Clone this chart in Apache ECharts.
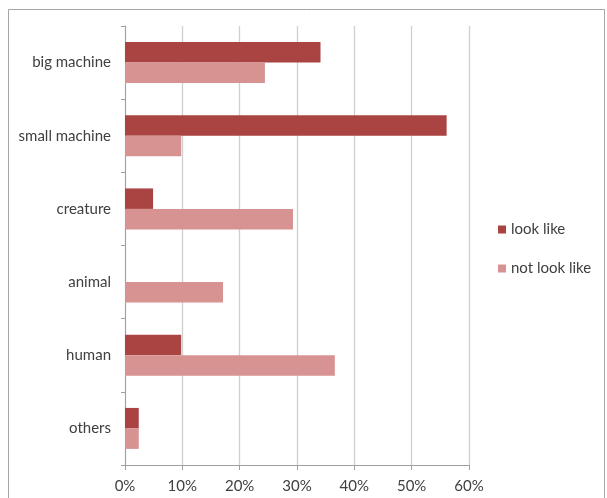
<!DOCTYPE html>
<html>
<head>
<meta charset="utf-8">
<script src="https://cdn.jsdelivr.net/npm/echarts@6/dist/echarts.min.js"></script>
<style>
  html, body { margin: 0; padding: 0; background: #fff; }
  #chart { width: 607px; height: 498px; }
</style>
</head>
<body>
<div id="chart"></div>
<script>
// Categories, top to bottom
const categories = ['big machine', 'small machine', 'creature', 'animal', 'human', 'others'];
// Share of answers (%)
const lookLike = [34.1, 56.1, 4.9, 0, 9.8, 2.4];
const notLookLike = [24.4, 9.8, 29.3, 17.1, 36.6, 2.4];
const seriesNames = ['look like', 'not look like'];
const xTicks = [0, 10, 20, 30, 40, 50, 60];

const font = 'Lato, "Open Sans", sans-serif';
const chart = echarts.init(document.getElementById('chart'), null, { renderer: 'canvas' });

chart.setOption({
  backgroundColor: '#fff',
  animation: false,
  graphic: [{
    type: 'rect',
    shape: { x: 8.5, y: 9.5, width: 596, height: 500 },
    style: { fill: 'none', stroke: '#a6a6a6', lineWidth: 1 },
    silent: true
  }],
  legend: {
    orient: 'vertical',
    left: 493,
    top: 217,
    itemWidth: 8,
    itemHeight: 8,
    itemGap: 24,
    icon: 'rect',
    textStyle: { fontFamily: font, fontSize: 15, color: '#404040' },
    data: seriesNames
  },
  grid: { left: 125, right: 138, top: 26, bottom: 33, containLabel: false },
  xAxis: {
    type: 'value',
    min: xTicks[0],
    max: xTicks[xTicks.length - 1],
    interval: 10,
    axisLine: { show: true, lineStyle: { color: '#a0a0a0', width: 1 } },
    axisTick: { show: true, length: 5, lineStyle: { color: '#a0a0a0' } },
    axisLabel: {
      margin: 14,
      fontFamily: font, fontSize: 15, color: '#404040',
      formatter: v => v + '%'
    },
    splitLine: { show: true, lineStyle: { color: '#cfcfcf', width: 1.3 } }
  },
  yAxis: {
    type: 'category',
    inverse: true,
    data: categories,
    axisLine: { show: true, lineStyle: { color: '#a0a0a0', width: 1 } },
    axisTick: { show: true, length: 4, lineStyle: { color: '#a0a0a0' } },
    axisLabel: { margin: 14, fontFamily: font, fontSize: 15, color: '#404040' }
  },
  series: [
    {
      name: seriesNames[0],
      type: 'bar',
      data: lookLike,
      itemStyle: { color: '#aa4442' },
      barGap: '0%',
      barCategoryGap: '44%'
    },
    {
      name: seriesNames[1],
      type: 'bar',
      data: notLookLike,
      itemStyle: { color: '#d69391' },
      barGap: '0%',
      barCategoryGap: '44%'
    }
  ]
});
</script>
</body>
</html>
